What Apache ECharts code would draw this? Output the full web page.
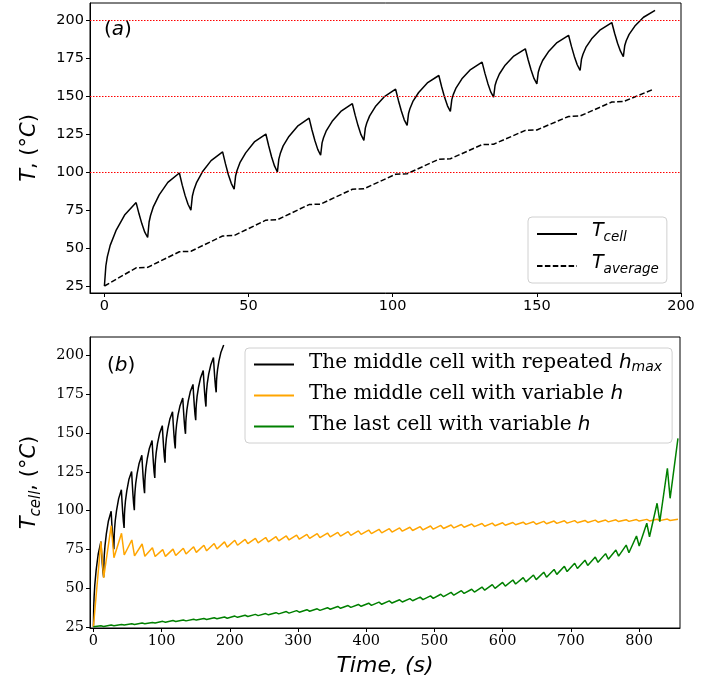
<!DOCTYPE html>
<html>
<head>
<meta charset="utf-8">
<script src="https://cdn.jsdelivr.net/npm/echarts@6/dist/echarts.min.js"></script>
<style>
  html, body { margin: 0; padding: 0; background: #fff; }
  #chart { width: 714px; height: 685px; }
</style>
</head>
<body>
<div id="chart"></div>
<script>
// ---- (a) middle cell, repeated h_max ----
var cellTime = [0, 0.5, 1, 2, 4, 7, 11,
  12, 13, 14, 15, 15.5, 16, 17, 19, 22, 26,
  27, 28, 29, 30, 30.5, 31, 32, 34, 37, 41,
  42, 43, 44, 45, 45.5, 46, 47, 49, 52, 56,
  57, 58, 59, 60, 60.5, 61, 62, 64, 67, 71,
  72, 73, 74, 75, 75.5, 76, 77, 79, 82, 86,
  87, 88, 89, 90, 90.5, 91, 92, 94, 97, 101,
  102, 103, 104, 105, 105.5, 106, 107, 109, 112, 116,
  117, 118, 119, 120, 120.5, 121, 122, 124, 127, 131,
  132, 133, 134, 135, 135.5, 136, 137, 139, 142, 146,
  147, 148, 149, 150, 150.5, 151, 152, 154, 157, 161,
  162, 163, 164, 165, 165.5, 166, 167, 169, 172, 176,
  177, 178, 179, 180, 180.5, 181, 182, 184, 187, 191];
var cellTemp = [25, 38.2, 44.2, 51.8, 61.5, 71.8, 80,
  72.6, 66.0, 60.5, 57, 67.2, 71.5, 77.4, 85.1, 93.3, 99.5,
  91.5, 84.6, 78.9, 75, 84.2, 88.1, 93.4, 100.3, 107.7, 113.4,
  105.5, 98.4, 92.7, 88.8, 97.5, 101.2, 106.3, 112.8, 120.0, 125.2,
  117.3, 110.1, 104.2, 100.2, 108.7, 112.3, 117.4, 123.6, 130.4, 135.7,
  127.9, 120.9, 115.1, 111.2, 119.4, 122.8, 127.5, 133.6, 140.1, 145.2,
  137.5, 130.6, 124.8, 121, 129.1, 132.5, 137.2, 143.3, 149.7, 154.8,
  147.2, 140.4, 134.6, 130.9, 138.8, 142.1, 146.7, 152.6, 158.9, 163.8,
  156.2, 149.4, 143.8, 140.1, 147.9, 151.2, 155.7, 161.6, 167.7, 172.6,
  165.2, 158.6, 153.0, 149.5, 157.2, 160.3, 164.8, 170.6, 176.6, 181.4,
  174.0, 167.4, 161.9, 158.3, 166.0, 169.2, 173.7, 179.4, 185.5, 190.3,
  183.0, 176.4, 170.9, 167.1, 174.7, 177.8, 182.3, 188.0, 193.9, 198.7,
  191.5, 185.1, 179.8, 176.3, 183.6, 186.7, 190.9, 196.4, 202.2, 206.8];
var avgTime = [0, 11, 15, 26, 30, 41, 45, 56, 60, 71, 75, 86, 90, 101, 105,
  116, 120, 131, 135, 146, 150, 161, 165, 176, 180, 190];
var avgTemp = [25, 37, 37.3, 47.6, 47.9, 58, 58.3, 68.4, 68.7, 78.7, 79, 88.8, 89.1, 98.7, 99,
  108.6, 108.9, 118.2, 118.5, 127.6, 127.9, 136.8, 137.1, 146.3, 146.6, 154.4];
var limitTemps = [100, 150, 200];

// ---- (b) variable h, middle and last cell ----
var bTime = [0,
  11, 15, 26.1, 30.1, 41.2, 45.2, 56.3, 60.3, 71.4, 75.4, 86.5, 90.5,
  101.6, 105.6, 116.7, 120.7, 131.8, 135.8, 146.9, 150.9, 162, 166, 177.1, 181.1,
  192.2, 196.2, 207.3, 211.3, 222.4, 226.4, 237.5, 241.5, 252.6, 256.6, 267.7, 271.7,
  282.8, 286.8, 297.9, 301.9, 313, 317, 328.1, 332.1, 343.2, 347.2, 358.3, 362.3,
  373.4, 377.4, 388.5, 392.5, 403.6, 407.6, 418.7, 422.7, 433.8, 437.8, 448.9, 452.9,
  464, 468, 479.1, 483.1, 494.2, 498.2, 509.3, 513.3, 524.4, 528.4, 539.5, 543.5,
  554.6, 558.6, 569.7, 573.7, 584.8, 588.8, 599.9, 603.9, 615, 619, 630.1, 634.1,
  645.2, 649.2, 660.3, 664.3, 675.4, 679.4, 690.5, 694.5, 705.6, 709.6, 720.7, 724.7,
  735.8, 739.8, 750.9, 754.9, 766, 770, 781.1, 785.1, 796.2, 800.2, 811.3, 815.3,
  826.4, 830.4, 841.5, 845.5, 857];
var middleTemp = [25,
  80, 56.6, 90.2, 69.5, 85.3, 71.3, 81.0, 70.8, 78.4, 70.5, 76.0, 70.3,
  74.8, 70.4, 75.1, 71.0, 75.7, 72.0, 76.6, 73.0, 77.6, 74.0, 78.7, 75.2,
  79.8, 76.4, 80.8, 77.6, 81.4, 78.6, 82.0, 79.2, 82.6, 79.8, 83.1, 80.4,
  83.6, 81.0, 84.1, 81.5, 84.6, 82.0, 85.1, 82.5, 85.5, 83.0, 85.9, 83.5,
  86.4, 84.0, 86.9, 84.6, 87.4, 85.1, 87.9, 85.6, 88.3, 86.1, 88.8, 86.7,
  89.2, 87.1, 89.6, 87.5, 90.0, 88.0, 90.4, 88.4, 90.7, 88.8, 91.0, 89.2,
  91.3, 89.6, 91.6, 89.9, 91.9, 90.2, 92.1, 90.5, 92.3, 90.8, 92.5, 91.1,
  92.8, 91.2, 93.0, 91.5, 93.2, 91.7, 93.4, 91.9, 93.5, 92.1, 93.6, 92.3,
  93.8, 92.5, 93.9, 92.7, 94.0, 92.9, 94.1, 93.0, 94.2, 93.2, 94.3, 93.3,
  94.4, 93.5, 94.5, 93.6, 94.4];
var lastTemp = [25,
  25.6, 25.2, 26.1, 25.7, 26.5, 26.1, 26.9, 26.5, 27.4, 27.0, 27.8, 27.4,
  28.5, 27.9, 29.0, 28.4, 29.4, 28.8, 29.9, 29.3, 30.3, 29.7, 30.8, 30.2,
  31.3, 30.5, 31.9, 31.1, 32.4, 31.6, 33.0, 32.2, 33.5, 32.7, 34.1, 33.3,
  34.8, 33.8, 35.4, 34.4, 36.0, 35.0, 36.6, 35.6, 37.3, 36.3, 38.1, 36.9,
  38.7, 37.5, 39.4, 38.2, 40.2, 38.8, 40.9, 39.5, 41.7, 40.3, 42.4, 41.0,
  43.2, 41.8, 44.1, 42.5, 44.9, 43.3, 46.0, 44.4, 47.2, 45.4, 48.3, 46.5,
  49.2, 47.4, 50.6, 48.6, 52.2, 49.8, 53.6, 51.2, 55.2, 52.6, 56.7, 54.0,
  58.4, 55.4, 60.2, 57.0, 62.0, 58.8, 64.0, 60.6, 66.0, 62.6, 68.0, 64.6,
  70.0, 66.6, 72.2, 68.6, 74.5, 70.6, 77.7, 72.8, 83.6, 77.1, 91.8, 83.1,
  104.7, 92.8, 127.3, 107.9, 146.6];

// tick labels
var ticksAx = [0, 50, 100, 150, 200];
var ticksBx = [0, 100, 200, 300, 400, 500, 600, 700, 800];
var ticksY = [25, 50, 75, 100, 125, 150, 175, 200];

function pairs(xs, ys) {
  return xs.map(function (x, i) { return [x, ys[i]]; });
}

var sansFont = '"DejaVu Sans", sans-serif';
var serifFont = '"DejaVu Serif", serif';

// 数学文字样式
var mathRich = {
  i: { fontFamily: sansFont, fontStyle: 'italic', fontSize: 21, color: '#000', lineHeight: 24, padding: [0, 0, 5, 0] },
  n: { fontFamily: sansFont, fontSize: 21, color: '#000', lineHeight: 24, padding: [0, 0, 5, 0] },
  s: { fontFamily: sansFont, fontStyle: 'italic', fontSize: 15, color: '#000', lineHeight: 15, verticalAlign: 'bottom' }
};

function makeAxis(gridIndex, min, max, ticks, font, extra) {
  var ax = {
    type: 'value', gridIndex: gridIndex, min: min, max: max,
    splitLine: { show: false },
    axisLine: { show: true, onZero: false, lineStyle: { color: '#000', width: 1 } },
    axisTick: { show: true, inside: false, length: 4, customValues: ticks, lineStyle: { color: '#000' } },
    axisLabel: { customValues: ticks, color: '#000', fontFamily: font, fontSize: 14.5, margin: 6 }
  };
  return Object.assign(ax, extra || {});
}

var chart = echarts.init(document.getElementById('chart'), null, { renderer: 'canvas' });

var option = {
  backgroundColor: '#fff',
  animation: false,
  grid: [
    { left: 90, right: 33, top: 3, height: 290, show: true, borderColor: '#000', borderWidth: 1, backgroundColor: '#fff' },
    { left: 90, right: 34, top: 337, height: 291, show: true, borderColor: '#000', borderWidth: 1, backgroundColor: '#fff' }
  ],
  xAxis: [
    makeAxis(0, -5, 200, ticksAx, sansFont),
    makeAxis(1, -5, 860, ticksBx, serifFont, {
      name: 'Time, (s)', nameLocation: 'middle', nameGap: 27,
      nameTextStyle: { fontFamily: sansFont, fontStyle: 'italic', fontSize: 22, color: '#000' }
    })
  ],
  yAxis: [
    makeAxis(0, 20.4, 211.6, ticksY, sansFont, {
      name: '{i|T}{n|, (°}{i|C}{n|)}', nameLocation: 'middle', nameGap: 46, nameRotate: 90,
      nameMoveOverlap: false,
      nameTextStyle: { rich: mathRich }
    }),
    makeAxis(1, 24.2, 212, ticksY, serifFont, {
      name: '{i|T}{s|cell}{n|, (°}{i|C}{n|)}', nameLocation: 'middle', nameGap: 46, nameRotate: 90,
      nameMoveOverlap: false,
      nameTextStyle: { rich: mathRich }
    })
  ],
  legend: [
    {
      orient: 'vertical', left: 528, top: 217, padding: [5, 8, 5, 8], itemGap: 8,
      itemWidth: 40, itemHeight: 14, itemStyle: { opacity: 0 },
      borderColor: '#d0d0d0', borderWidth: 1, borderRadius: 4, backgroundColor: 'rgba(255,255,255,0.8)',
      data: ['Tcell', 'Taverage'],
      formatter: function (name) {
        return name === 'Tcell' ? '{i|T}{s|cell}' : '{i|T}{s|average}';
      },
      textStyle: {
        padding: [0, 0, 0, 10],
        rich: {
          i: { fontFamily: sansFont, fontStyle: 'italic', fontSize: 19, color: '#000', lineHeight: 20, padding: [0, 0, 5, 0] },
          s: { fontFamily: sansFont, fontStyle: 'italic', fontSize: 13.5, color: '#000', lineHeight: 13, verticalAlign: 'bottom' }
        }
      }
    },
    {
      orient: 'vertical', left: 245, top: 348, padding: [5, 10, 5, 8], itemGap: 8,
      itemWidth: 40, itemHeight: 14, itemStyle: { opacity: 0 },
      borderColor: '#d0d0d0', borderWidth: 1, borderRadius: 4, backgroundColor: 'rgba(255,255,255,0.8)',
      data: ['repeated', 'middle', 'last'],
      formatter: function (name) {
        if (name === 'repeated') return '{t|The middle cell with repeated }{h|h}{s|max}';
        if (name === 'middle') return '{t|The middle cell with variable }{h|h}';
        return '{t|The last cell with variable }{h|h}';
      },
      textStyle: {
        padding: [0, 0, 0, 10],
        rich: {
          t: { fontFamily: serifFont, fontSize: 20, color: '#000', lineHeight: 20, padding: [0, 0, 3, 0] },
          h: { fontFamily: sansFont, fontStyle: 'italic', fontSize: 20, color: '#000', lineHeight: 20, padding: [0, 0, 3, 0] },
          s: { fontFamily: sansFont, fontStyle: 'italic', fontSize: 14, color: '#000', lineHeight: 12, verticalAlign: 'bottom' }
        }
      }
    }
  ],
  graphic: [
    { type: 'text', left: 104, top: 20, style: { text: '{n|(}{i|a}{n|)}', rich: {
      n: { fontFamily: sansFont, fontSize: 20, fill: '#000' },
      i: { fontFamily: sansFont, fontStyle: 'italic', fontSize: 20, fill: '#000' } } } },
    { type: 'text', left: 107, top: 356, style: { text: '{n|(}{i|b}{n|)}', rich: {
      n: { fontFamily: sansFont, fontSize: 20, fill: '#000' },
      i: { fontFamily: sansFont, fontStyle: 'italic', fontSize: 20, fill: '#000' } } } }
  ],
  series: [
    {
      name: 'Tcell', type: 'line', xAxisIndex: 0, yAxisIndex: 0, symbol: 'none',
      data: pairs(cellTime, cellTemp),
      lineStyle: { color: '#000', width: 1.5 }, itemStyle: { color: '#000' },
      markLine: {
        silent: true, symbol: 'none', label: { show: false },
        lineStyle: { color: '#ff0000', width: 1, type: [1.5, 1.5] },
        data: limitTemps.map(function (v) { return { yAxis: v }; })
      },
      z: 3
    },
    {
      name: 'Taverage', type: 'line', xAxisIndex: 0, yAxisIndex: 0, symbol: 'none',
      data: pairs(avgTime, avgTemp),
      lineStyle: { color: '#000', width: 1.5, type: [5.5, 2.4] }, itemStyle: { color: '#000' }
    },
    {
      name: 'repeated', type: 'line', xAxisIndex: 1, yAxisIndex: 1, symbol: 'none',
      data: pairs(cellTime, cellTemp),
      lineStyle: { color: '#000', width: 1.5 }, itemStyle: { color: '#000' }
    },
    {
      name: 'middle', type: 'line', xAxisIndex: 1, yAxisIndex: 1, symbol: 'none',
      data: pairs(bTime, middleTemp),
      lineStyle: { color: '#ffa500', width: 1.5 }, itemStyle: { color: '#ffa500' }
    },
    {
      name: 'last', type: 'line', xAxisIndex: 1, yAxisIndex: 1, symbol: 'none',
      data: pairs(bTime, lastTemp),
      lineStyle: { color: '#008000', width: 1.5 }, itemStyle: { color: '#008000' }
    }
  ]
};

chart.setOption(option);
</script>
</body>
</html>
